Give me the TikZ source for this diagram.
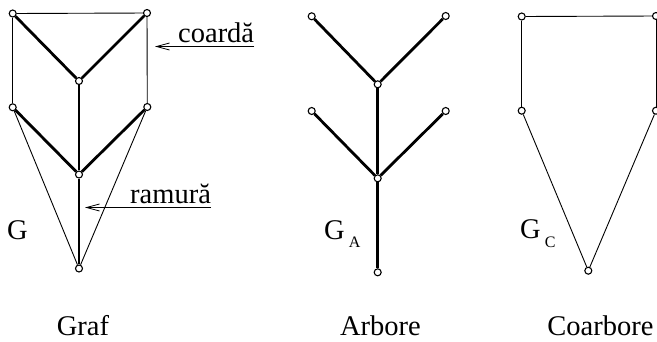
\documentclass[tikz,border=0pt]{standalone}
\usepackage{fontspec}
\setmainfont{Liberation Serif}
\usetikzlibrary{arrows.meta}
\begin{document}
\begin{tikzpicture}[x=1pt,y=-1pt,
  vtx/.style={circle,draw,fill=white,inner sep=0pt,minimum size=7pt,line width=1.1pt},
  thin edge/.style={line width=0.9pt},
  thick edge/.style={line width=2.8pt},
  lbl/.style={inner sep=0pt,font=\fontsize{28.5}{34}\selectfont},
  caption/.style={lbl,anchor=base,text depth=0pt},
  pointer/.style={line width=0.8pt,-{Straight Barb[length=13pt,width=7pt,line width=0.8pt]}}]
\useasboundingbox (0,0) rectangle (657,341);
% ---------- Graf ----------
\node[vtx] (g1) at (12.7,13.5) {};
\node[vtx] (g2) at (147,13) {};
\node[vtx] (g3) at (79,81) {};
\node[vtx] (g4) at (12.7,107.3) {};
\node[vtx] (g5) at (147.3,107) {};
\node[vtx] (g6) at (79,174.5) {};
\node[vtx] (g7) at (79,268.5) {};
\draw[thin edge] (g1) -- (g2);
\draw[thin edge] (g1) -- (g4);
\draw[thin edge] (g2) -- (g5);
\draw[thin edge] (g4) -- (g7);
\draw[thin edge] (g5) -- (g7);
\draw[thick edge] (g1) -- (g3);
\draw[thick edge] (g2) -- (g3);
\draw[thick edge] (g3) -- (g6);
\draw[thick edge] (g4) -- (g6);
\draw[thick edge] (g5) -- (g6);
\draw[thick edge] (g6) -- (g7);
\node[lbl,anchor=base west] (coarda) at (178,42) {coardă};
\coordinate (cA) at (155,46.5);
\draw[pointer] (coarda.base east |- cA) -- (cA);
\node[lbl,anchor=base west] (ramura) at (130,203) {ramură};
\coordinate (rA) at (85,207.5);
\draw[pointer] (ramura.base east |- rA) -- (rA);
\node[lbl,anchor=base west] (Glbl) at (7,239) {G};
\node[caption] (graf) at (83,335.5) {Graf};
% ---------- Arbore ----------
\node[vtx] (a1) at (311.7,16.3) {};
\node[vtx] (a2) at (445.7,16) {};
\node[vtx] (a3) at (377.7,84.3) {};
\node[vtx] (a4) at (311.7,111) {};
\node[vtx] (a5) at (445.7,111) {};
\node[vtx] (a6) at (377.7,178.3) {};
\node[vtx] (a7) at (377.7,272.3) {};
\draw[thick edge] (a1) -- (a3);
\draw[thick edge] (a2) -- (a3);
\draw[thick edge] (a3) -- (a6);
\draw[thick edge] (a4) -- (a6);
\draw[thick edge] (a5) -- (a6);
\draw[thick edge] (a6) -- (a7);
\node[lbl,anchor=base west] (GA) at (324,239) {G\kern4pt\raisebox{-8.5pt}{\fontsize{16}{18}\selectfont A}};
\node[caption] (arbore) at (380.5,335.5) {Arbore};
% ---------- Coarbore ----------
\node[vtx] (c1) at (521.7,16.5) {};
\node[vtx] (c2) at (656,16) {};
\node[vtx] (c4) at (521.7,110.7) {};
\node[vtx] (c5) at (656,110.7) {};
\node[vtx] (c7) at (588.3,270.7) {};
\draw[thin edge] (c1) -- (c2);
\draw[thin edge] (c1) -- (c4);
\draw[thin edge] (c2) -- (c5);
\draw[thin edge] (c4) -- (c7);
\draw[thin edge] (c5) -- (c7);
\node[lbl,anchor=base west] (GC) at (520,238.5) {G\kern4pt\raisebox{-8.5pt}{\fontsize{16}{18}\selectfont C}};
\node[caption] (coarbore) at (600.5,335.5) {Coarbore};
\end{tikzpicture}
\end{document}
